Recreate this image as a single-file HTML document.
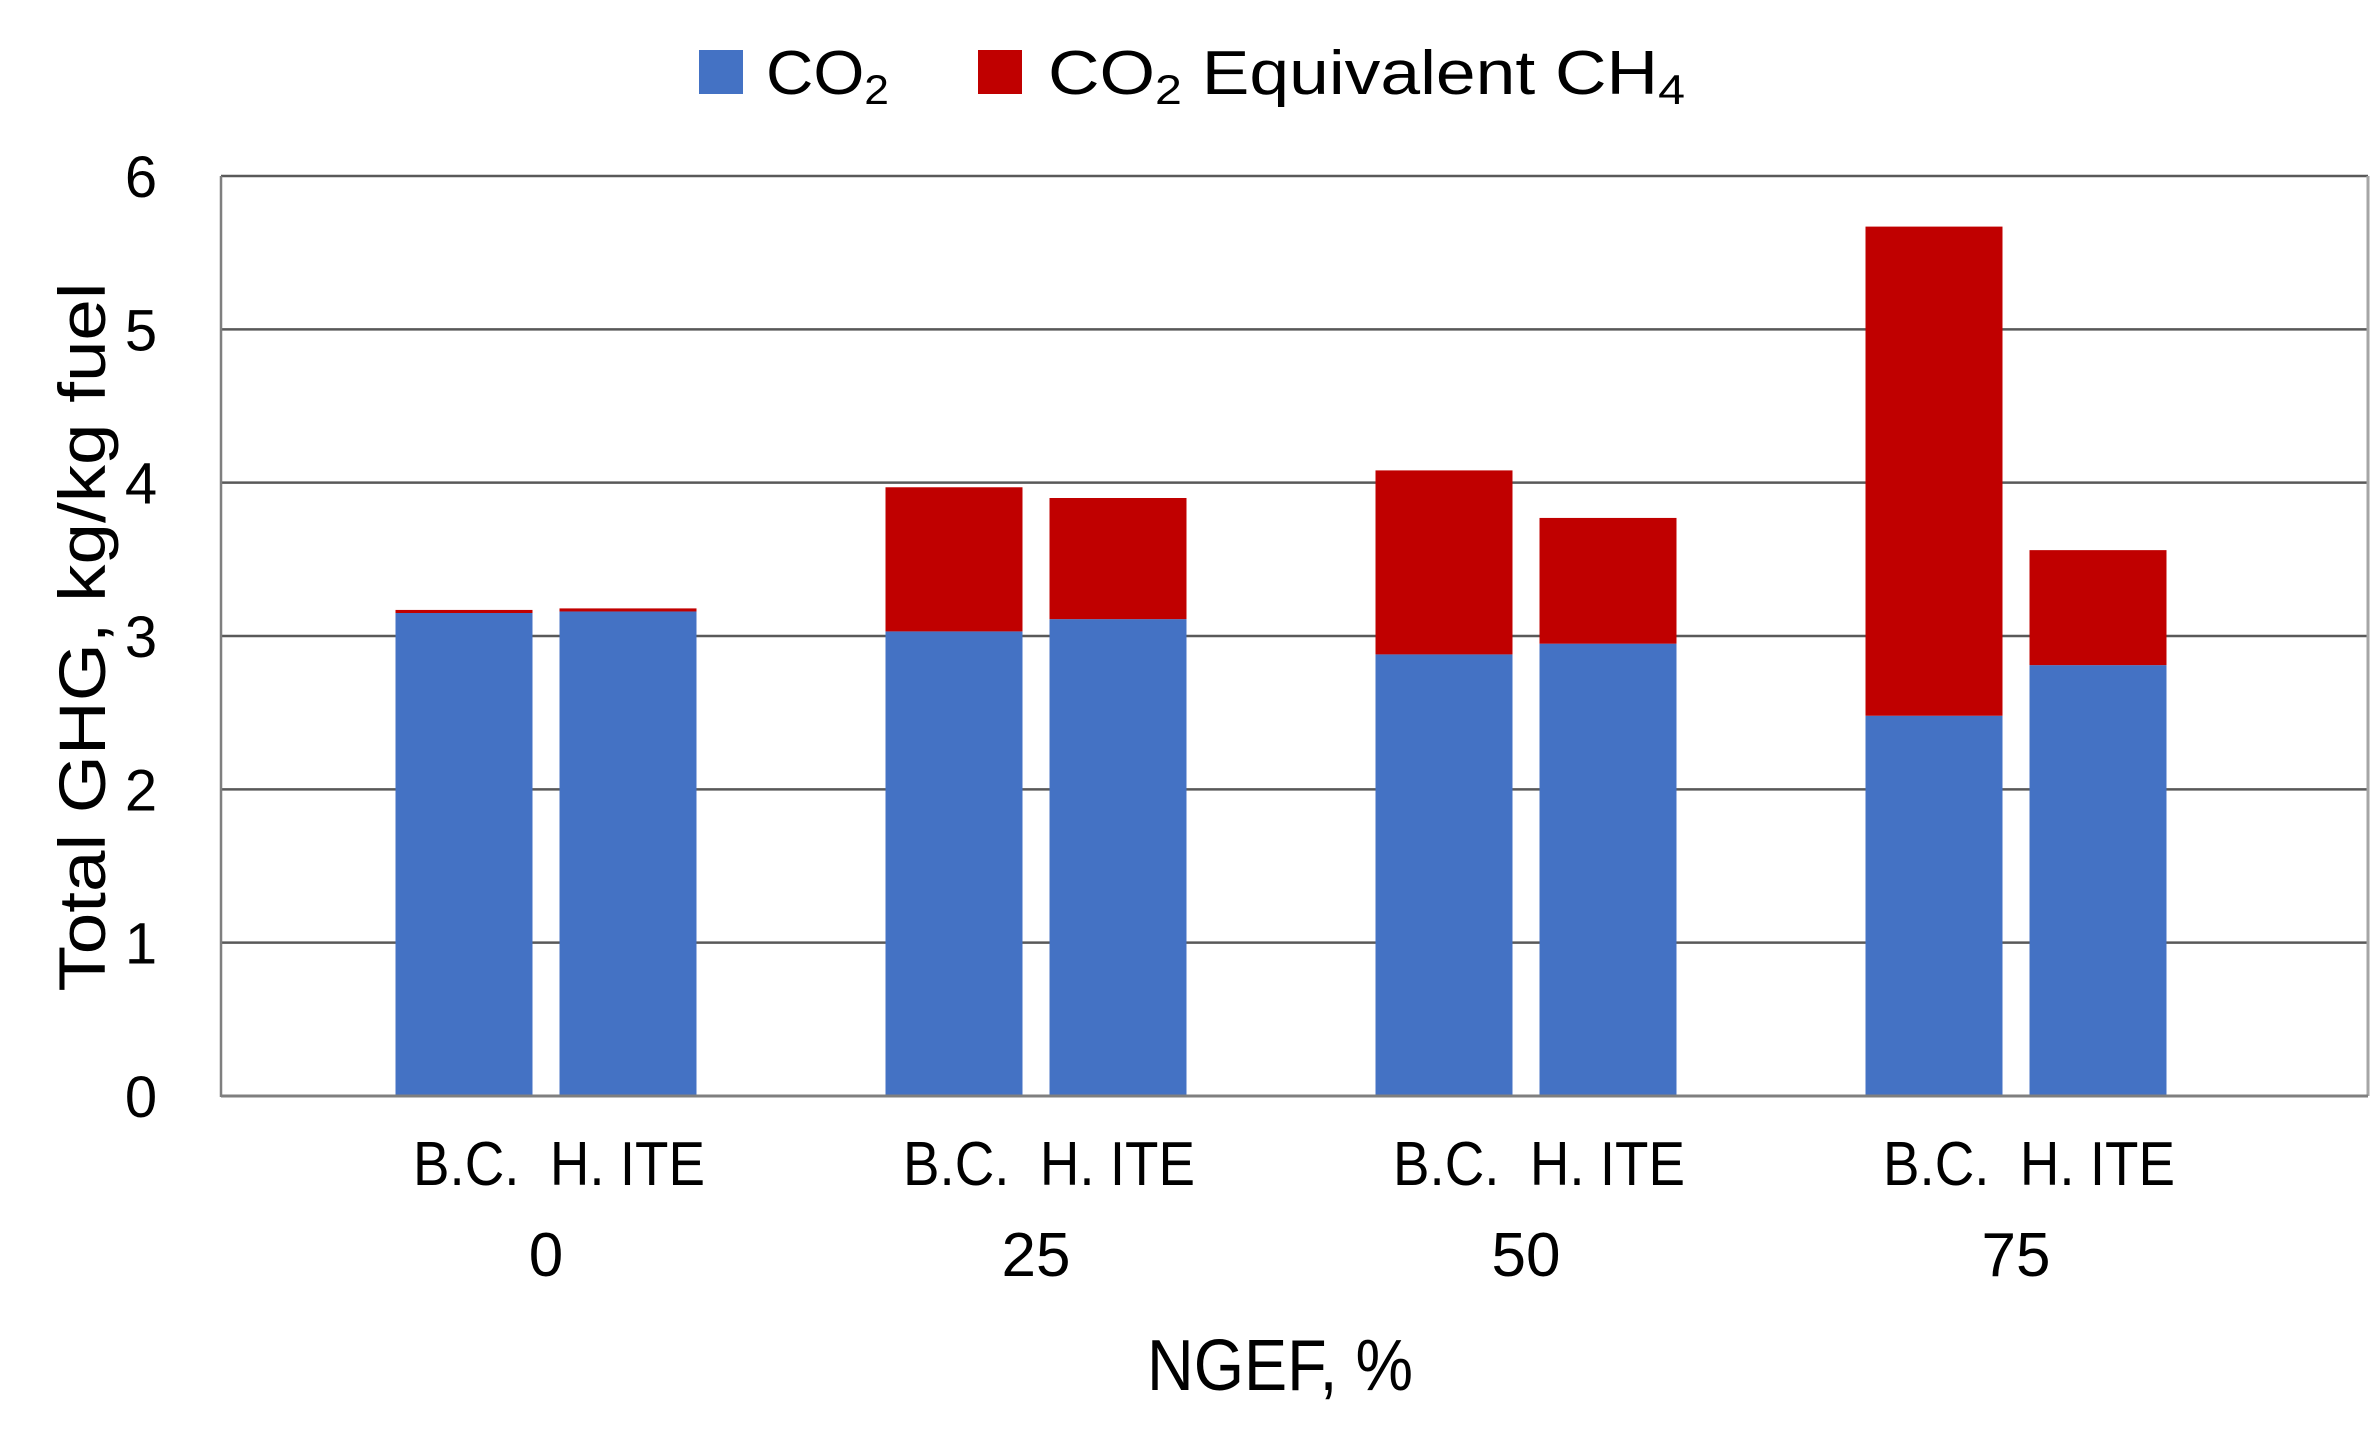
<!DOCTYPE html>
<html><head><meta charset="utf-8"><style>
html,body{margin:0;padding:0;background:#fff;}
svg{display:block;font-family:"Liberation Sans",sans-serif;}
.pre{white-space:pre;}
</style></head><body>
<svg id="chart" width="2374" height="1441" viewBox="0 0 2374 1441" xmlns="http://www.w3.org/2000/svg">
<g id="legend">
<rect x="699" y="50" width="44" height="44" fill="#4472c4"/>
<text x="766" y="94" font-size="62" textLength="123" lengthAdjust="spacingAndGlyphs">CO<tspan font-size="42" dy="10">2</tspan></text>
<rect x="978" y="50" width="44" height="44" fill="#c00000"/>
<text x="1048" y="94" font-size="62" textLength="637" lengthAdjust="spacingAndGlyphs">CO<tspan font-size="42" dy="10">2</tspan><tspan dy="-10"> Equivalent CH</tspan><tspan font-size="42" dy="10">4</tspan></text>
</g>
<g id="grid"></g>
<g id="bars"></g>
<g id="axes"></g>
<text transform="translate(105,637) rotate(-90)" text-anchor="middle" font-size="66" textLength="709" lengthAdjust="spacingAndGlyphs">Total GHG, kg/kg fuel</text>
<text x="1147" y="1390" font-size="72" textLength="266" lengthAdjust="spacingAndGlyphs">NGEF, %</text>
</svg>
<script>
const categories = ["0", "25", "50", "75"];
const subLabels = ["B.C.", "H. ITE"];
const co2BC = [3.15, 3.03, 2.88, 2.48];
const ch4BC = [0.02, 0.94, 1.20, 3.19];
const co2HITE = [3.16, 3.11, 2.95, 2.81];
const ch4HITE = [0.02, 0.79, 0.82, 0.75];
const yTicks = [0, 1, 2, 3, 4, 5, 6];

const NS = "http://www.w3.org/2000/svg";
const plotL = 221, plotR = 2368, plotT = 176, plotB = 1096, yMax = 6;
const y = v => plotB - (v / yMax) * (plotB - plotT);
const groupCenter = i => 546 + i * 490;
const barW = 137, barGap = 27;
function mk(tag, attrs, parent) {
  const e = document.createElementNS(NS, tag);
  for (const k in attrs) e.setAttribute(k, attrs[k]);
  parent.appendChild(e);
  return e;
}
const grid = document.getElementById("grid");
const bars = document.getElementById("bars");
const axes = document.getElementById("axes");

yTicks.forEach(t => {
  if (t > 0) {
    const l = mk("line", {x1: plotL, x2: plotR, y1: y(t), y2: y(t), stroke: "#595959", "stroke-width": 2.5}, grid);
    
    
  }
  const tx = mk("text", {x: 141, y: y(t) + 21, "text-anchor": "middle", "font-size": 58}, axes);
  tx.textContent = String(t);
  
  
});
const right = mk("line", {x1: plotR, x2: plotR, y1: plotT, y2: plotB, stroke: "#a6a6a6", "stroke-width": 3}, axes);


const left = mk("line", {x1: plotL, x2: plotL, y1: plotT, y2: plotB + 1, stroke: "#7f7f7f", "stroke-width": 2.5}, axes);


const bottom = mk("line", {x1: plotL, x2: plotR, y1: plotB, y2: plotB, stroke: "#7f7f7f", "stroke-width": 3}, axes);



function drawStack(x, co2, ch4, tag) {
  const b = mk("rect", {x: x, y: y(co2), width: barW, height: plotB - y(co2), fill: "#4472c4"}, bars);
  
  
  const r = mk("rect", {x: x, y: y(co2 + ch4), width: barW, height: y(co2) - y(co2 + ch4), fill: "#c00000"}, bars);
  
  
}
categories.forEach((c, i) => {
  const cx = groupCenter(i);
  drawStack(cx - barGap / 2 - barW, co2BC[i], ch4BC[i], 'bc-' + c);
  drawStack(cx + barGap / 2, co2HITE[i], ch4HITE[i], 'hite-' + c);
  const sl = mk("text", {x: cx - 133, y: 1185, "font-size": 62, textLength: 292, lengthAdjust: "spacingAndGlyphs", "class": "pre"}, axes);
  sl.textContent = subLabels[0] + "  " + subLabels[1];
  
  
  const cl = mk("text", {x: cx, y: 1276, "text-anchor": "middle", "font-size": 62}, axes);
  cl.textContent = c;
  
  
});
</script>
</body></html>
